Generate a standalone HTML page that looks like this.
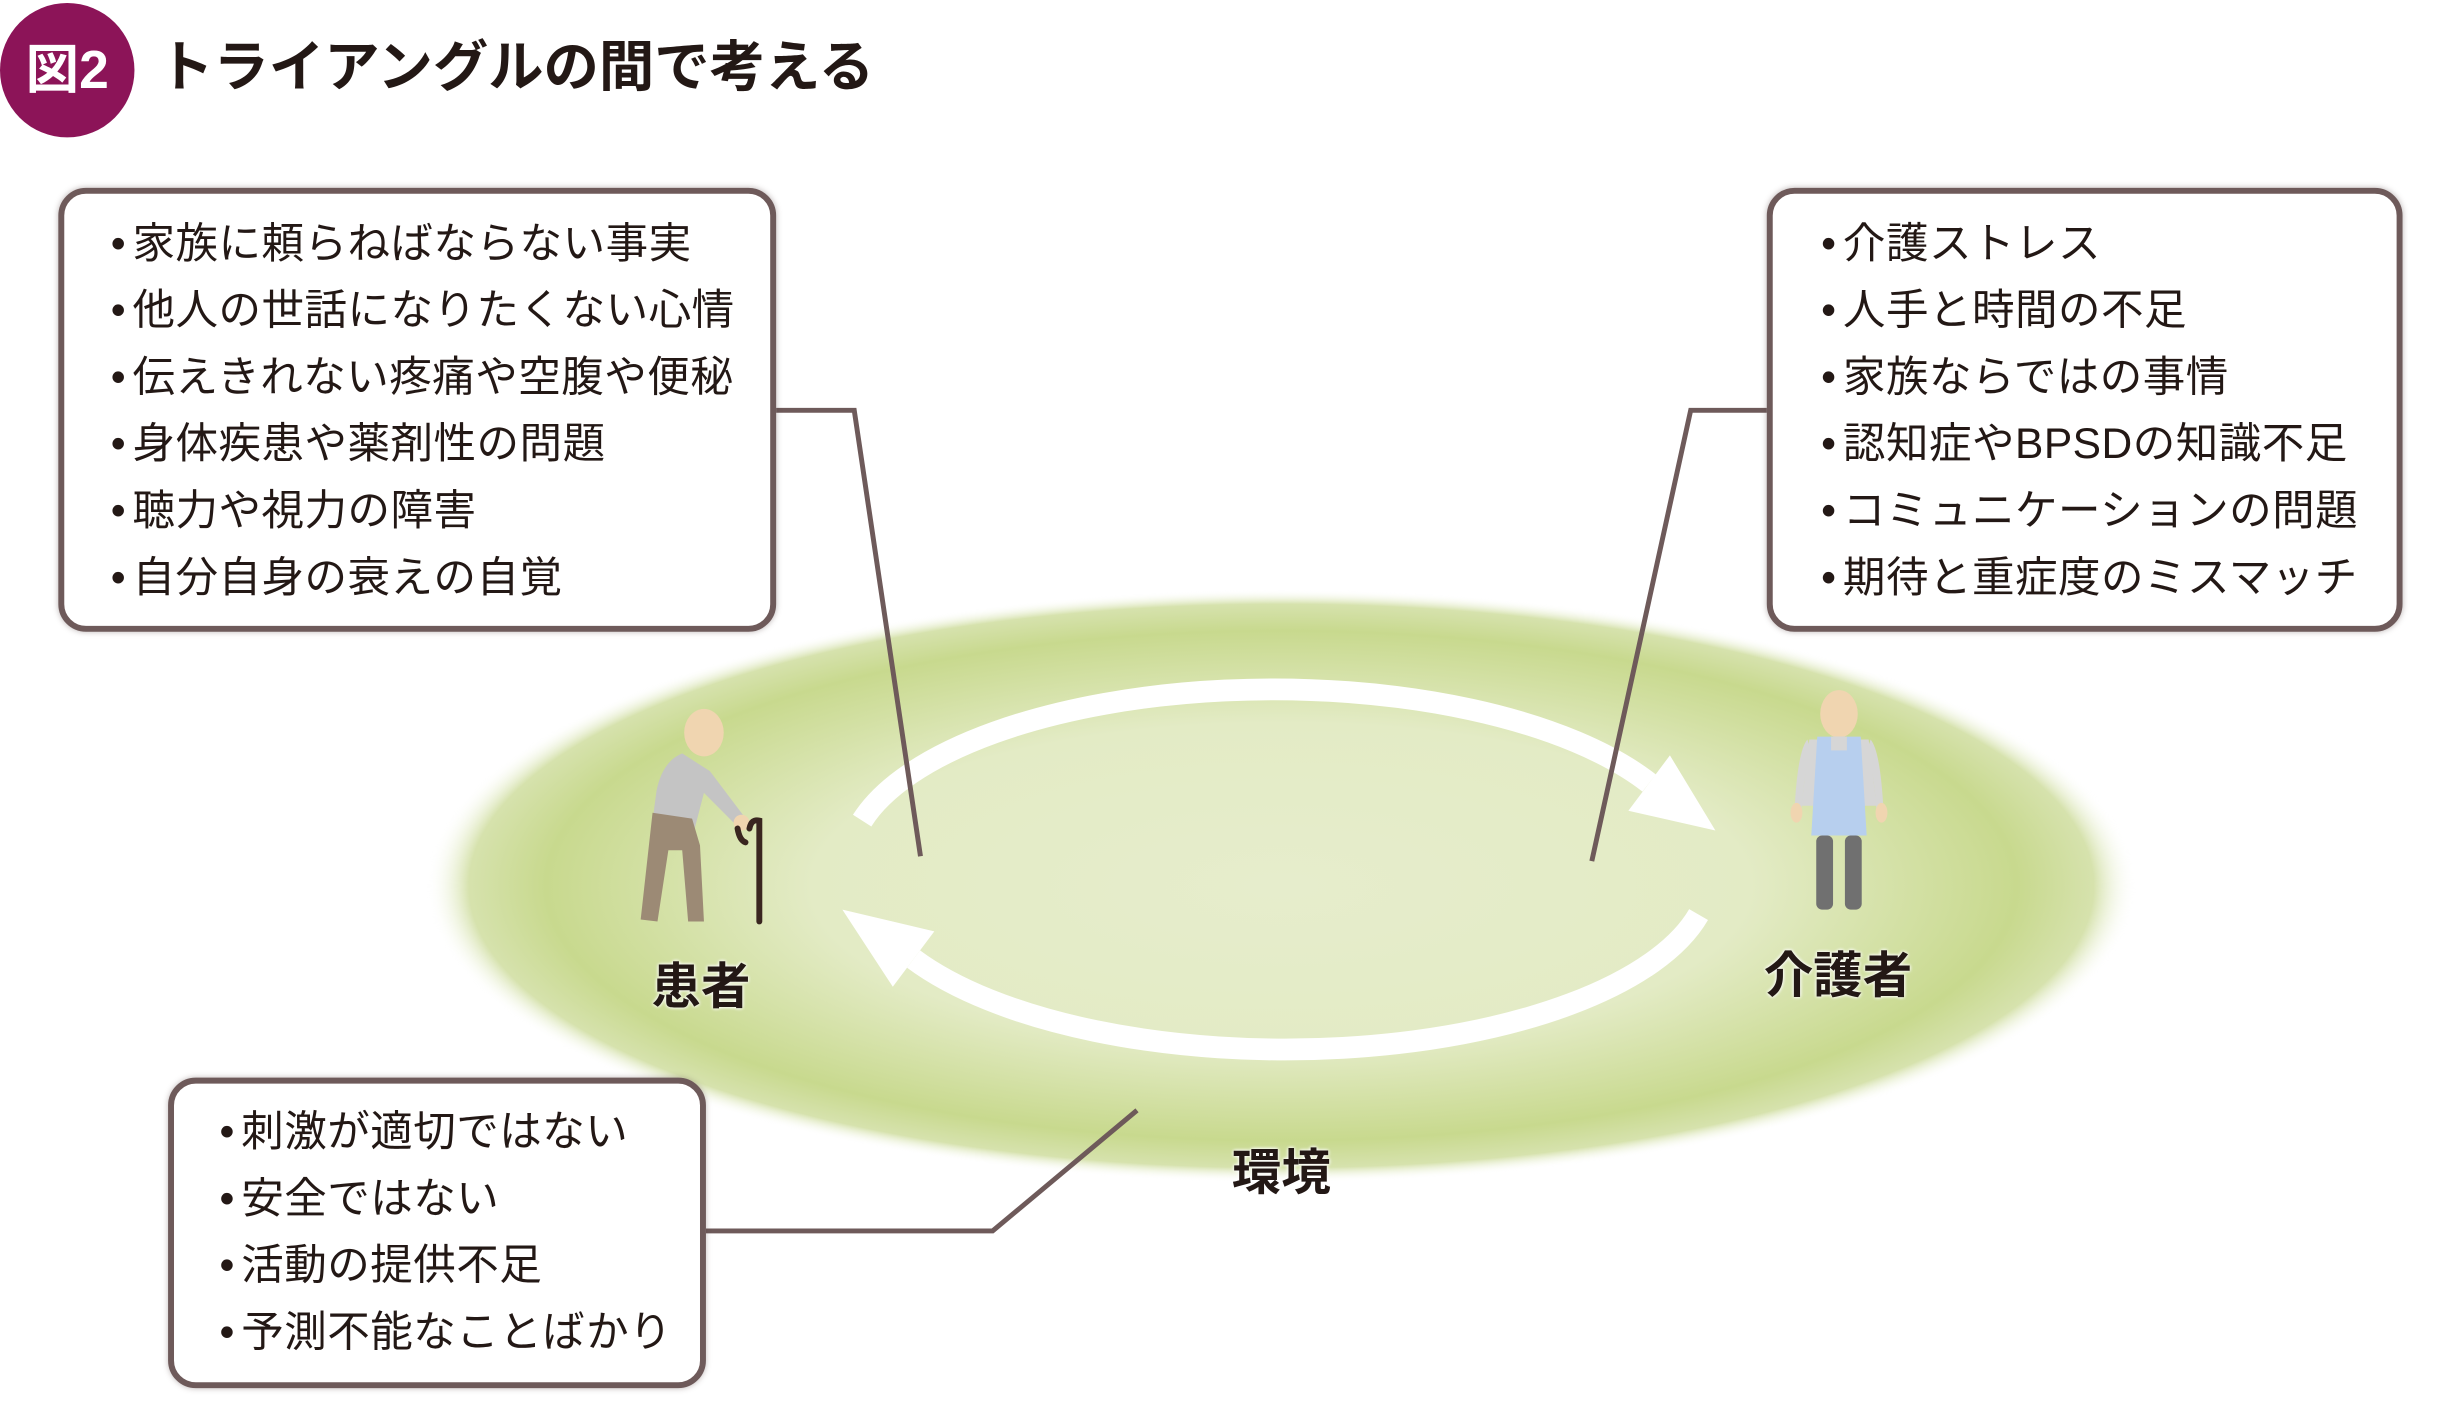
<!DOCTYPE html>
<html><head><meta charset="utf-8"><style>
html,body{margin:0;padding:0;background:#fff;}
body{width:2461px;height:1417px;position:relative;overflow:hidden;font-family:"Liberation Sans","Noto Sans CJK JP",sans-serif;color:#231815;}
#w{position:absolute;left:0;top:0;width:2489px;height:1433px;transform:scale(0.9887);transform-origin:0 0;}
.box{position:absolute;border:6px solid #6e5a5a;border-radius:28px;background:#fff;box-sizing:border-box;box-shadow:0 0 6px rgba(80,60,60,.35);}
.ln{position:absolute;font-size:43px;line-height:43px;white-space:nowrap;letter-spacing:0.5px;}
.ln b{font-weight:normal;display:inline-block;width:20px;margin-right:2px;}
.lbl{position:absolute;font-size:50px;font-weight:bold;transform:translate(-50%,-50%);white-space:nowrap;text-shadow:0 0 4px #fff,0 0 4px #fff;}
</style></head><body><div id="w">
<svg width="2489" height="1433" style="position:absolute;left:0;top:0">
<defs>
<radialGradient id="g" cx="50%" cy="50%" r="50%">
<stop offset="0" stop-color="#e6edcc"/>
<stop offset="0.55" stop-color="#e3ebc5"/>
<stop offset="0.86" stop-color="#c8d98e"/>
<stop offset="0.95" stop-color="#d6e2ad"/>
<stop offset="1" stop-color="#ffffff" stop-opacity="0"/>
</radialGradient>
</defs>
<circle cx="68" cy="71" r="68" fill="#8c1458"/>
<ellipse cx="1296" cy="896" rx="865" ry="300" fill="url(#g)"/>
<path d="M 872 830 A 430 178 0 0 1 1668 792" fill="none" stroke="#fff" stroke-width="22"/>
<polygon points="1647,820 1689,764 1735,840" fill="#fff"/>
<path d="M 1718 925 A 430 178 0 0 1 924 970" fill="none" stroke="#fff" stroke-width="22"/>
<polygon points="945,942 903,998 852,920" fill="#fff"/>
<g stroke="#6e5a5a" stroke-width="5" fill="none">
<polyline points="785,415 864,415 931,866"/>
<polyline points="1787,415 1710,415 1610,871"/>
<polyline points="714,1245 1004,1245 1150,1123"/>
</g>
<g>
<ellipse cx="712" cy="741" rx="20" ry="24" fill="#f0d5b0"/>
<path d="M690 762 Q670 770 664 800 L660 830 L700 848 L712 802 L745 835 L752 825 L718 780 Z" fill="#c4c4c4"/>
<path d="M660 822 L648 930 L665 932 L676 860 L690 860 L696 932 L712 932 L708 855 L700 828 Z" fill="#9c8a75"/>
<circle cx="750" cy="832" r="8" fill="#f0d5b0"/>
<path d="M746 838 Q748 850 754 852 M758 838 Q760 828 768 830 L768 932" stroke="#3a2620" stroke-width="6" fill="none" stroke-linecap="round"/>
</g>
<g>
<ellipse cx="1860" cy="722" rx="19" ry="24" fill="#f0d5b0"/>
<path d="M1830 748 L1890 748 L1898 815 L1822 815 Z" fill="#d6d6d6"/>
<path d="M1828 748 Q1818 760 1815 820 L1822 820 Q1826 770 1832 760 Z" fill="#d6d6d6"/>
<path d="M1892 748 Q1902 760 1905 820 L1898 820 Q1894 770 1888 760 Z" fill="#d6d6d6"/>
<path d="M1838 745 L1882 745 L1888 845 L1832 845 Z" fill="#b7cfee"/>
<rect x="1852" y="745" width="16" height="14" fill="#d6d6d6"/>
<ellipse cx="1817" cy="822" rx="6" ry="10" fill="#f0d5b0"/>
<ellipse cx="1903" cy="822" rx="6" ry="10" fill="#f0d5b0"/>
<rect x="1837" y="845" width="17" height="75" rx="6" fill="#707070"/>
<rect x="1866" y="845" width="17" height="75" rx="6" fill="#707070"/>
</g>
</svg>
<div style="position:absolute;left:20px;top:38px;width:96px;text-align:center;color:#fff;font-size:54px;font-weight:bold;line-height:66px;">図2</div>
<div style="position:absolute;left:160px;top:35px;font-size:56px;font-weight:bold;line-height:66px;white-space:nowrap;">トライアングルの間で考える</div>

<div class="box" style="left:59px;top:190px;width:726px;height:449px;"></div>
<div class="ln" style="left:112px;top:226px"><b>•</b>家族に頼らねばならない事実</div>
<div class="ln" style="left:112px;top:293px"><b>•</b>他人の世話になりたくない心情</div>
<div class="ln" style="left:112px;top:361px"><b>•</b>伝えきれない疼痛や空腹や便秘</div>
<div class="ln" style="left:112px;top:428px"><b>•</b>身体疾患や薬剤性の問題</div>
<div class="ln" style="left:112px;top:496px"><b>•</b>聴力や視力の障害</div>
<div class="ln" style="left:112px;top:564px"><b>•</b>自分自身の衰えの自覚</div>

<div class="box" style="left:1787px;top:190px;width:643px;height:449px;"></div>
<div class="ln" style="left:1842px;top:226px"><b>•</b>介護ストレス</div>
<div class="ln" style="left:1842px;top:293px"><b>•</b>人手と時間の不足</div>
<div class="ln" style="left:1842px;top:361px"><b>•</b>家族ならではの事情</div>
<div class="ln" style="left:1842px;top:428px"><b>•</b>認知症やBPSDの知識不足</div>
<div class="ln" style="left:1842px;top:496px"><b>•</b>コミュニケーションの問題</div>
<div class="ln" style="left:1842px;top:564px"><b>•</b>期待と重症度のミスマッチ</div>

<div class="box" style="left:170px;top:1090px;width:544px;height:314px;"></div>
<div class="ln" style="left:222px;top:1124px"><b>•</b>刺激が適切ではない</div>
<div class="ln" style="left:222px;top:1192px"><b>•</b>安全ではない</div>
<div class="ln" style="left:222px;top:1259px"><b>•</b>活動の提供不足</div>
<div class="ln" style="left:222px;top:1327px"><b>•</b>予測不能なことばかり</div>

<div class="lbl" style="left:709px;top:994px">患者</div>
<div class="lbl" style="left:1859px;top:983px">介護者</div>
<div class="lbl" style="left:1296px;top:1182px">環境</div>
</div></body></html>
